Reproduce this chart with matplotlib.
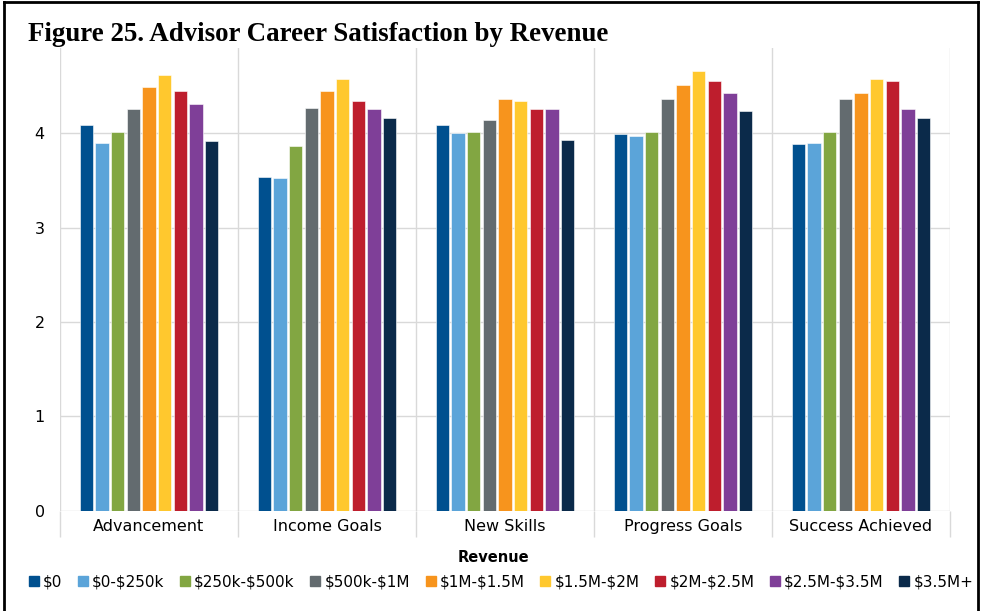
import matplotlib
matplotlib.use('Agg')
import numpy as np
import matplotlib.pyplot as plt
from matplotlib.lines import Line2D

# 数据
categories = ['Advancement', 'Income Goals', 'New Skills', 'Progress Goals', 'Success Achieved']
revenue_groups = ['$0', '$0-$250k', '$250k-$500k', '$500k-$1M', '$1M-$1.5M',
                  '$1.5M-$2M', '$2M-$2.5M', '$2.5M-$3.5M', '$3.5M+']
colors = ['#00508F', '#5BA4D9', '#82A642', '#636B6F', '#F7941D',
          '#FFC82E', '#BE1E2D', '#7F3F98', '#0B2A4A']

rev_0 = [4.08, 3.53, 4.08, 3.99, 3.88]
rev_0_250k = [3.90, 3.52, 4.00, 3.97, 3.90]
rev_250k_500k = [4.01, 3.86, 4.01, 4.01, 4.01]
rev_500k_1m = [4.25, 4.27, 4.14, 4.36, 4.36]
rev_1m_15m = [4.49, 4.44, 4.36, 4.51, 4.42]
rev_15m_2m = [4.61, 4.57, 4.34, 4.66, 4.57]
rev_2m_25m = [4.44, 4.34, 4.25, 4.55, 4.55]
rev_25m_35m = [4.31, 4.25, 4.25, 4.42, 4.25]
rev_35m_plus = [3.92, 4.16, 3.93, 4.23, 4.16]

series = [rev_0, rev_0_250k, rev_250k_500k, rev_500k_1m, rev_1m_15m,
          rev_15m_2m, rev_2m_25m, rev_25m_35m, rev_35m_plus]

def esc(s):
    return s.replace('$', r'\$')

plt.rcParams['font.family'] = ['DejaVu Sans']

fig = plt.figure(figsize=(9.82, 6.11), dpi=100)
ax = fig.add_axes([0.0611, 0.1637, 0.9063, 0.7577])

x = np.arange(len(categories))
n = len(series)
pitch = 0.088
bar_w = 0.075
for i, (vals, c) in enumerate(zip(series, colors)):
    offs = (i - (n - 1) / 2) * pitch
    ax.bar(x + offs, vals, width=bar_w, color=c, edgecolor='white', linewidth=0.4,
           label=esc(revenue_groups[i]), zorder=3)

ax.set_xlim(-0.5, len(categories) - 0.5)
ax.set_ylim(0, 4.9)
ax.set_yticks([0, 1, 2, 3, 4])
ax.set_xticks(x)
ax.set_xticklabels(categories, fontsize=11.5)
ax.set_xticks(np.arange(len(categories) + 1) - 0.5, minor=True)
ax.tick_params(axis='x', which='major', length=0, pad=6)
ax.tick_params(axis='x', which='minor', length=19, color='#D9D9D9', width=1)
ax.tick_params(axis='y', length=0, pad=11, labelsize=11.5)
for s in ax.spines.values():
    s.set_visible(False)
ax.grid(axis='y', color='#D9D9D9', linewidth=1, zorder=0)
ax.grid(axis='x', which='minor', color='#D9D9D9', linewidth=1, zorder=0)

# 标题
fig.text(0.0285, 0.933, 'Figure 25. Advisor Career Satisfaction by Revenue',
         family='Liberation Serif', fontweight='bold', fontsize=19.4, va='baseline')

# 图例
fig.text(0.502, 0.087, 'Revenue', fontsize=10.5, fontweight='bold', ha='center', va='center')
handles = [Line2D([], [], marker='s', linestyle='none', color=c, markersize=7) for c in colors]
fig.legend(handles, [esc(r) for r in revenue_groups], loc='center', ncol=9,
           bbox_to_anchor=(0.5105, 0.047), frameon=False, fontsize=11,
           handlelength=0.6, handletextpad=0.3, columnspacing=1.05)

# 外框
for xs, ys in [([0.004, 0.996], [0.996, 0.996]), ([0.004, 0.004], [0.0, 0.996]),
               ([0.996, 0.996], [0.0, 0.996])]:
    fig.add_artist(Line2D(xs, ys, color='black', linewidth=2, transform=fig.transFigure))

fig.savefig('out.png', dpi=100)
